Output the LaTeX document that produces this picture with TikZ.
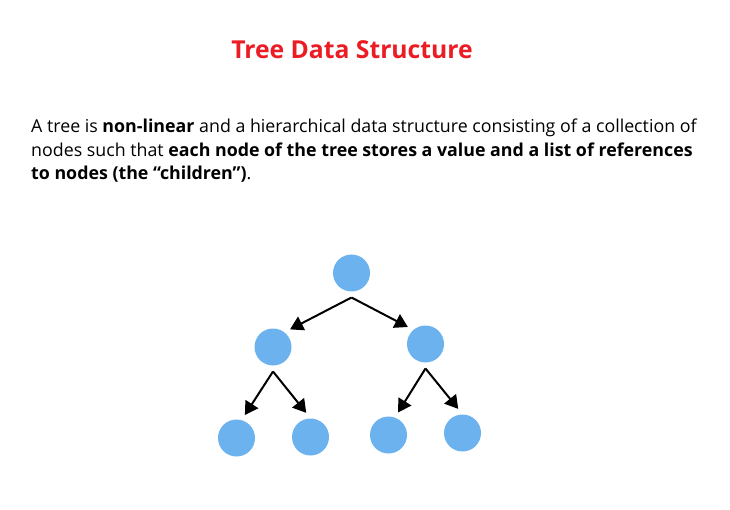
\documentclass[tikz,border=0pt]{standalone}
\usepackage{fontspec}
\setmainfont{Open Sans}
\usepackage{tikz}
\usetikzlibrary{arrows.meta}
\definecolor{titlered}{RGB}{236,28,36}
\definecolor{nodeblue}{RGB}{107,178,238}
\tikzset{
heading/.style = {text=titlered, font=\fontsize{24.7}{29}\selectfont\bfseries},
para/.style = {anchor=north west, align=left, inner sep=0pt, font=\fontsize{17.8}{23.2}\selectfont},
treenode/.style = {circle, fill=nodeblue, minimum size=37pt, inner sep=0pt, outer sep=6pt},
line/.style = {draw, line width=2pt, -{Triangle[length=13pt,width=15pt]}}
}

\begin{document}
\begin{tikzpicture}[x=1pt,y=-1pt]
    \useasboundingbox (0,0) rectangle (730,510);
    \node [heading] (title) at (352,50) {Tree Data Structure};
    \node [para] (text) at (31,119) {A tree is \textbf{non-linear} and a hierarchical data structure consisting of a collection of\\
    nodes such that \textbf{each node of the tree stores a value and a list of references}\\
    \textbf{to nodes (the ``children'')}.};

    % the tree
    \node [treenode] (root) at (351.5,273) {};
    \node [treenode] (lc) at (273,347) {};
    \node [treenode] (rc) at (425.5,344) {};
    \node [treenode] (ll) at (236.5,438) {};
    \node [treenode] (lr) at (310.5,437) {};
    \node [treenode] (rl) at (388.5,435) {};
    \node [treenode] (rr) at (462.5,433) {};

    \path [line] (root.south) -- (lc.46);
    \path [line] (root.south) -- (rc.136);
    \path [line] (lc.south) -- (ll.70);
    \path [line] (lc.south) -- (lr.100);
    \path [line] (rc.south) -- (rl.67);
    \path [line] (rc.south) -- (rr.100);
\end{tikzpicture}
\end{document}
